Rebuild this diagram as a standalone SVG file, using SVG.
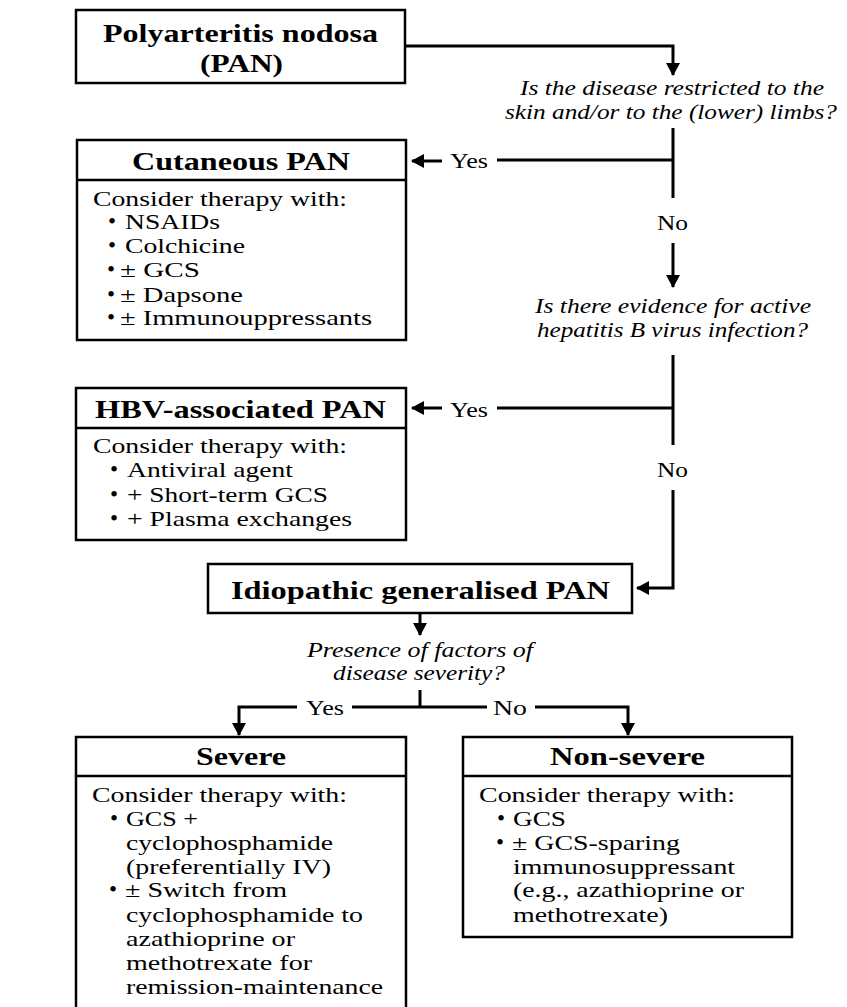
<svg xmlns="http://www.w3.org/2000/svg" width="847" height="1007" viewBox="0 0 847 1007" font-family="Liberation Serif, Times New Roman, serif">
<style>
text{font-family:"Liberation Serif","Times New Roman",serif;fill:#000}
.t{font-size:25px;font-weight:bold}
.b{font-size:21px}
.d{font-size:23px}
.q{font-size:20px;font-style:italic}
.l{font-size:22px}
.box{fill:#fff;stroke:#000;stroke-width:2.5}
.div{stroke:#000;stroke-width:2.5;fill:none}
.c{fill:none;stroke:#000;stroke-width:3}
</style>
<defs>
<marker id="ah" viewBox="0 0 13 14" refX="12" refY="7" markerWidth="13" markerHeight="14" markerUnits="userSpaceOnUse" orient="auto">
<path d="M0,0 L13,7 L0,14 z" fill="#000"/>
</marker>
</defs>
<rect width="847" height="1007" fill="#fff"/>

<g id="connectors">
<path class="c" d="M406,46 H673 V75" marker-end="url(#ah)"/>
<path class="c" d="M673,128 V198 M673,160 H497"/>
<path class="c" d="M442,161 H412" marker-end="url(#ah)"/>
<path class="c" d="M673,243 V287" marker-end="url(#ah)"/>
<path class="c" d="M673,355 V445 M673,408 H497"/>
<path class="c" d="M442,408 H412" marker-end="url(#ah)"/>
<path class="c" d="M673,490 V588 H637" marker-end="url(#ah)"/>
<path class="c" d="M420,613 V635" marker-end="url(#ah)"/>
<path class="c" d="M420,690 V707 M352,707 H487"/>
<path class="c" d="M297,707 H239 V735" marker-end="url(#ah)"/>
<path class="c" d="M535,707 H628 V735" marker-end="url(#ah)"/>
<text class="l" x="450" y="168" textLength="38" lengthAdjust="spacingAndGlyphs">Yes</text>
<text class="l" x="657" y="230" textLength="31" lengthAdjust="spacingAndGlyphs">No</text>
<text class="l" x="450" y="417" textLength="38" lengthAdjust="spacingAndGlyphs">Yes</text>
<text class="l" x="657" y="477" textLength="31" lengthAdjust="spacingAndGlyphs">No</text>
<text class="l" x="306" y="715" textLength="38" lengthAdjust="spacingAndGlyphs">Yes</text>
<text class="l" x="493" y="715" textLength="34" lengthAdjust="spacingAndGlyphs">No</text>
</g>

<g id="pan">
<rect class="box" x="76" y="10" width="329" height="73"/>
<text class="t" x="103" y="42" textLength="275" lengthAdjust="spacingAndGlyphs">Polyarteritis nodosa</text>
<text class="t" x="200" y="72" textLength="83" lengthAdjust="spacingAndGlyphs">(PAN)</text>
</g>

<g id="q1">
<text class="q" x="520" y="95" textLength="304" lengthAdjust="spacingAndGlyphs">Is the disease restricted to the</text>
<text class="q" x="505" y="119" textLength="332" lengthAdjust="spacingAndGlyphs">skin and/or to the (lower) limbs?</text>
</g>

<g id="cutaneous">
<rect class="box" x="77" y="140" width="329" height="200"/>
<path class="div" d="M77,180 H406"/>
<text class="t" x="132" y="170" textLength="218" lengthAdjust="spacingAndGlyphs">Cutaneous PAN</text>
<text class="b" x="93" y="206" textLength="254" lengthAdjust="spacingAndGlyphs">Consider therapy with:</text>
<text class="d" x="108" y="229">•</text>
<text class="b" x="125" y="229" textLength="95" lengthAdjust="spacingAndGlyphs">NSAIDs</text>
<text class="d" x="108" y="253">•</text>
<text class="b" x="125" y="253" textLength="120" lengthAdjust="spacingAndGlyphs">Colchicine</text>
<text class="d" x="107" y="277">•</text>
<text class="b" x="120" y="277" textLength="80" lengthAdjust="spacingAndGlyphs">± GCS</text>
<text class="d" x="107" y="302">•</text>
<text class="b" x="120" y="302" textLength="123" lengthAdjust="spacingAndGlyphs">± Dapsone</text>
<text class="d" x="107" y="325">•</text>
<text class="b" x="120" y="325" textLength="252" lengthAdjust="spacingAndGlyphs">± Immunouppressants</text>
</g>

<g id="q2">
<text class="q" x="535" y="313" textLength="276" lengthAdjust="spacingAndGlyphs">Is there evidence for active</text>
<text class="q" x="537" y="337" textLength="271" lengthAdjust="spacingAndGlyphs">hepatitis B virus infection?</text>
</g>

<g id="hbv">
<rect class="box" x="76" y="388" width="330" height="152"/>
<path class="div" d="M76,428 H406"/>
<text class="t" x="95" y="418" textLength="291" lengthAdjust="spacingAndGlyphs">HBV-associated PAN</text>
<text class="b" x="93" y="453" textLength="254" lengthAdjust="spacingAndGlyphs">Consider therapy with:</text>
<text class="d" x="110" y="477">•</text>
<text class="b" x="127" y="477" textLength="166" lengthAdjust="spacingAndGlyphs">Antiviral agent</text>
<text class="d" x="110" y="502">•</text>
<text class="b" x="127" y="502" textLength="201" lengthAdjust="spacingAndGlyphs">+ Short-term GCS</text>
<text class="d" x="110" y="526">•</text>
<text class="b" x="127" y="526" textLength="225" lengthAdjust="spacingAndGlyphs">+ Plasma exchanges</text>
</g>

<g id="idiopathic">
<rect class="box" x="208" y="564" width="424" height="49"/>
<text class="t" x="231" y="599" textLength="379" lengthAdjust="spacingAndGlyphs">Idiopathic generalised PAN</text>
</g>

<g id="q3">
<text class="q" x="307" y="657" textLength="226" lengthAdjust="spacingAndGlyphs">Presence of factors of</text>
<text class="q" x="333" y="680" textLength="172" lengthAdjust="spacingAndGlyphs">disease severity?</text>
</g>

<g id="severe">
<path class="box" d="M76,1012 V737 H406 V1012"/>
<path class="div" d="M76,776 H406"/>
<text class="t" x="196" y="765" textLength="90" lengthAdjust="spacingAndGlyphs">Severe</text>
<text class="b" x="92" y="802" textLength="255" lengthAdjust="spacingAndGlyphs">Consider therapy with:</text>
<text class="d" x="110" y="826">•</text>
<text class="b" x="126" y="826" textLength="72" lengthAdjust="spacingAndGlyphs">GCS +</text>
<text class="b" x="126" y="850" textLength="207" lengthAdjust="spacingAndGlyphs">cyclophosphamide</text>
<text class="b" x="126" y="874" textLength="205" lengthAdjust="spacingAndGlyphs">(preferentially IV)</text>
<text class="d" x="109" y="897">•</text>
<text class="b" x="125" y="897" textLength="162" lengthAdjust="spacingAndGlyphs">± Switch from</text>
<text class="b" x="126" y="922" textLength="237" lengthAdjust="spacingAndGlyphs">cyclophosphamide to</text>
<text class="b" x="126" y="946" textLength="169" lengthAdjust="spacingAndGlyphs">azathioprine or</text>
<text class="b" x="126" y="970" textLength="186" lengthAdjust="spacingAndGlyphs">methotrexate for</text>
<text class="b" x="126" y="994" textLength="257" lengthAdjust="spacingAndGlyphs">remission-maintenance</text>
</g>

<g id="nonsevere">
<rect class="box" x="463" y="737" width="329" height="200"/>
<path class="div" d="M463,776 H792"/>
<text class="t" x="550" y="765" textLength="155" lengthAdjust="spacingAndGlyphs">Non-severe</text>
<text class="b" x="479" y="802" textLength="256" lengthAdjust="spacingAndGlyphs">Consider therapy with:</text>
<text class="d" x="497" y="826">•</text>
<text class="b" x="513" y="826" textLength="53" lengthAdjust="spacingAndGlyphs">GCS</text>
<text class="d" x="496" y="850">•</text>
<text class="b" x="512" y="850" textLength="168" lengthAdjust="spacingAndGlyphs">± GCS-sparing</text>
<text class="b" x="513" y="874" textLength="222" lengthAdjust="spacingAndGlyphs">immunosuppressant</text>
<text class="b" x="513" y="897" textLength="231" lengthAdjust="spacingAndGlyphs">(e.g., azathioprine or</text>
<text class="b" x="513" y="922" textLength="155" lengthAdjust="spacingAndGlyphs">methotrexate)</text>
</g>
</svg>
